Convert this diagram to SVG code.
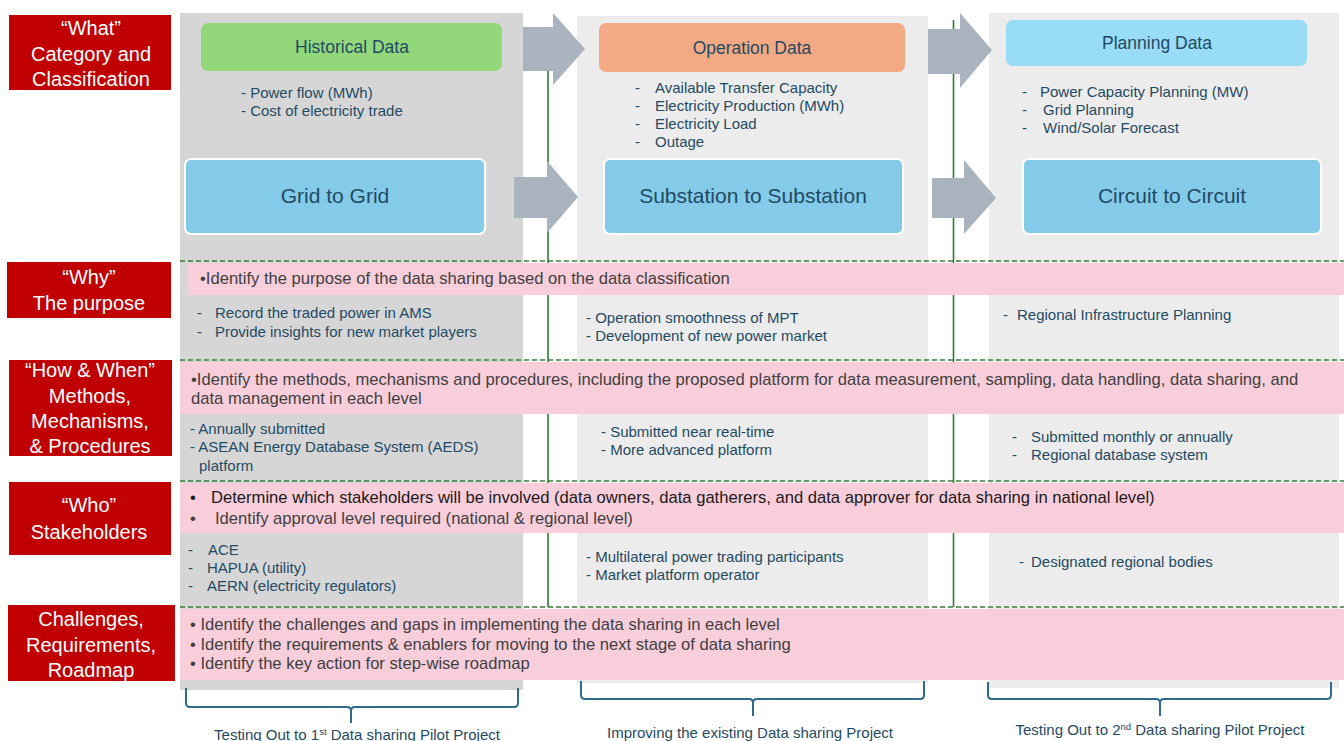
<svg xmlns="http://www.w3.org/2000/svg" width="1344" height="741" viewBox="0 0 1344 741">
<style>
.lbl{fill:#c00000}
.lt{font-family:"Liberation Sans",Arial,sans-serif;font-size:20px;fill:#fff;text-anchor:middle}
.b{font-family:"Liberation Sans",Arial,sans-serif;font-size:15px;fill:#1f4a63}
.p{font-family:"Liberation Sans",Arial,sans-serif;font-size:16.6px;fill:#404040}
.pk{fill:#f9cedb}
.dash{stroke:#3a7d3a;stroke-width:1.6;stroke-dasharray:5 3;fill:none}
.vl{stroke:#2e7d32;stroke-width:1.6}
.arr{fill:#a9b4bf}
.br{fill:none;stroke:#2f6b8a;stroke-width:2}
.bl{font-family:"Liberation Sans",Arial,sans-serif;font-size:15px;fill:#1f4a63;text-anchor:middle}
.hd{font-family:"Liberation Sans",Arial,sans-serif;font-size:17.5px;fill:#1f4a63;text-anchor:middle}
.lv{font-family:"Liberation Sans",Arial,sans-serif;font-size:21px;fill:#1f4a63;text-anchor:middle}
</style>
<rect width="1344" height="741" fill="#fff"/>
<g id="columns">
<rect x="180" y="13" width="343" height="677" fill="#d6d6d6"/>
<rect x="577" y="16" width="351" height="667" fill="#ececec"/>
<rect x="989" y="13" width="350" height="675" fill="#ececec"/>
</g>
<g id="connectors">
<line class="vl" x1="548" y1="50" x2="548" y2="607"/>
<line class="vl" x1="953.5" y1="20" x2="953.5" y2="607"/>
<polygon class="arr" points="523,27 553,27 553,13 585,49 553,85 553,71 523,71"/>
<polygon class="arr" points="928,29 960,29 960,13 992,50 960,88 960,74 928,74"/>
<polygon class="arr" points="514,177 547,177 547,161 578,197 547,233 547,218 514,218"/>
<polygon class="arr" points="932,178 964,178 964,160 996,198 964,234 964,218 932,218"/>
</g>
<g id="bands">
<rect class="pk" x="188" y="263" width="1156" height="32"/>
<rect class="pk" x="180" y="362" width="1164" height="52"/>
<rect class="pk" x="180" y="483" width="1164" height="50"/>
<rect class="pk" x="180" y="609" width="1164" height="71"/>
<line class="dash" x1="180" y1="261" x2="1344" y2="261"/>
<line class="dash" x1="180" y1="360" x2="1344" y2="360"/>
<line class="dash" x1="180" y1="481" x2="1344" y2="481"/>
<line class="dash" x1="180" y1="607" x2="1344" y2="607"/>
</g>
<g id="label-what"><rect class="lbl" x="9" y="15" width="162" height="75"/>
<text class="lt" x="91" y="35">“What”</text><text class="lt" x="91" y="61">Category and</text><text class="lt" x="91" y="86">Classification</text></g>
<g id="label-why"><rect class="lbl" x="7" y="262" width="164" height="56"/>
<text class="lt" x="89" y="284">“Why”</text><text class="lt" x="89" y="310">The purpose</text></g>
<g id="label-how"><rect class="lbl" x="9" y="360" width="163" height="96"/>
<text class="lt" x="90" y="377">“How &amp; When”</text><text class="lt" x="90" y="403">Methods,</text><text class="lt" x="90" y="428">Mechanisms,</text><text class="lt" x="90" y="453">&amp; Procedures</text></g>
<g id="label-who"><rect class="lbl" x="9" y="482" width="162" height="73"/>
<text class="lt" x="89" y="512">“Who”</text><text class="lt" x="89" y="539">Stakeholders</text></g>
<g id="label-challenges"><rect class="lbl" x="8" y="605" width="167" height="76"/>
<text class="lt" x="91" y="626">Challenges,</text><text class="lt" x="91" y="652">Requirements,</text><text class="lt" x="91" y="677">Roadmap</text></g>
<g id="historical-data"><rect x="201" y="23" width="301" height="48" rx="7" fill="#92d87a"/><text class="hd" x="352" y="53">Historical Data</text></g>
<g id="operation-data"><rect x="599" y="23" width="306" height="49" rx="7" fill="#f3a983"/><text class="hd" x="752" y="54">Operation Data</text></g>
<g id="planning-data"><rect x="1006" y="20" width="301" height="46" rx="7" fill="#98dcf6"/><text class="hd" x="1157" y="49">Planning Data</text></g>
<g id="grid-to-grid"><rect x="185" y="159" width="300" height="75" rx="6" fill="#84cbea" stroke="#fff" stroke-width="2"/><text class="lv" x="335" y="203">Grid to Grid</text></g>
<g id="substation"><rect x="604" y="159" width="299" height="75" rx="6" fill="#84cbea" stroke="#fff" stroke-width="2"/><text class="lv" x="753" y="203">Substation to Substation</text></g>
<g id="circuit"><rect x="1023" y="159" width="298" height="75" rx="6" fill="#84cbea" stroke="#fff" stroke-width="2"/><text class="lv" x="1172" y="203">Circuit to Circuit</text></g>
<g id="what-lists">
<text class="b" x="241" y="98">- Power flow (MWh)</text>
<text class="b" x="241" y="116">- Cost of electricity trade</text>
<text class="b" x="635" y="93">-</text><text class="b" x="655" y="93">Available Transfer Capacity</text>
<text class="b" x="635" y="111">-</text><text class="b" x="655" y="111">Electricity Production (MWh)</text>
<text class="b" x="635" y="129">-</text><text class="b" x="655" y="129">Electricity Load</text>
<text class="b" x="635" y="147">-</text><text class="b" x="655" y="147">Outage</text>
<text class="b" x="1022" y="97">-</text><text class="b" x="1040" y="97">Power Capacity Planning (MW)</text>
<text class="b" x="1022" y="115">-</text><text class="b" x="1043" y="115">Grid Planning</text>
<text class="b" x="1022" y="133">-</text><text class="b" x="1043" y="133">Wind/Solar Forecast</text>
</g>
<g id="why-text">
<text class="p" x="200" y="284">•Identify the purpose of the data sharing based on the data classification</text>
<text class="b" x="197" y="318">-</text><text class="b" x="215" y="318">Record the traded power in AMS</text>
<text class="b" x="197" y="337">-</text><text class="b" x="215" y="337">Provide insights for new market players</text>
<text class="b" x="586" y="323">- Operation smoothness of MPT</text>
<text class="b" x="586" y="341">- Development of new power market</text>
<text class="b" x="1003" y="320">-</text><text class="b" x="1017" y="320">Regional Infrastructure Planning</text>
</g>
<g id="how-text">
<text class="p" x="191" y="385">•Identify the methods, mechanisms and procedures, including the proposed platform for data measurement, sampling, data handling, data sharing, and</text>
<text class="p" x="191" y="404">data management in each level</text>
<text class="b" x="190" y="434">- Annually submitted</text>
<text class="b" x="190" y="452">- ASEAN Energy Database System (AEDS)</text>
<text class="b" x="199" y="471">platform</text>
<text class="b" x="601" y="437">- Submitted near real-time</text>
<text class="b" x="601" y="455">- More advanced platform</text>
<text class="b" x="1012" y="442">-</text><text class="b" x="1031" y="442">Submitted monthly or annually</text>
<text class="b" x="1012" y="460">-</text><text class="b" x="1031" y="460">Regional database system</text>
</g>
<g id="who-text">
<text class="p" x="190" y="503" style="fill:#1a1a1a">•</text><text class="p" x="211" y="503" style="fill:#1a1a1a">Determine which stakeholders will be involved (data owners, data gatherers, and data approver for data sharing in national level)</text>
<text class="p" x="190" y="524">•</text><text class="p" x="215" y="524">Identify approval level required (national &amp; regional level)</text>
<text class="b" x="188" y="555">-</text><text class="b" x="208" y="555">ACE</text>
<text class="b" x="188" y="573">-</text><text class="b" x="207" y="573">HAPUA (utility)</text>
<text class="b" x="188" y="591">-</text><text class="b" x="207" y="591">AERN (electricity regulators)</text>
<text class="b" x="586" y="562">- Multilateral power trading participants</text>
<text class="b" x="586" y="580">- Market platform operator</text>
<text class="b" x="1019" y="567">-</text><text class="b" x="1031" y="567">Designated regional bodies</text>
</g>
<g id="challenges-text">
<text class="p" x="190" y="630">• Identify the challenges and gaps in implementing the data sharing in each level</text>
<text class="p" x="190" y="650">• Identify the requirements &amp; enablers for moving to the next stage of data sharing</text>
<text class="p" x="190" y="669">• Identify the key action for step-wise roadmap</text>
</g>
<g id="brace-1"><path class="br" d="M186,688 V703 Q186,707 190,707 H347 Q351,707 351,711 V723 M351,711 Q351,707 355,707 H514 Q518,707 518,703 V688"/>
<text class="bl" x="357" y="740">Testing Out to 1<tspan font-size="9.5" dy="-5">st</tspan><tspan dy="5"> Data sharing Pilot Project</tspan></text></g>
<g id="brace-2"><path class="br" d="M581,681 V695 Q581,699 585,699 H749 Q753,699 753,703 V716 M753,703 Q753,699 757,699 H920 Q924,699 924,695 V681"/>
<text class="bl" x="750" y="738">Improving the existing Data sharing Project</text></g>
<g id="brace-3"><path class="br" d="M988,682 V695 Q988,699 992,699 H1156 Q1160,699 1160,703 V716 M1160,703 Q1160,699 1164,699 H1327 Q1331,699 1331,695 V682"/>
<text class="bl" x="1160" y="735">Testing Out to 2<tspan font-size="9.5" dy="-5">nd</tspan><tspan dy="5"> Data sharing Pilot Project</tspan></text></g>
</svg>
